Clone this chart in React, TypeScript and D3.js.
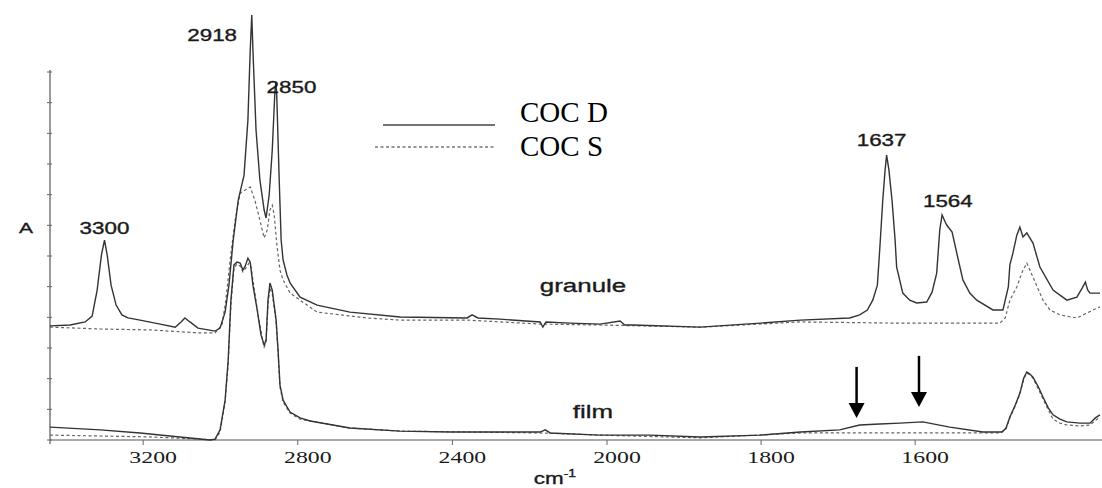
import React from "react";
import * as d3 from "d3";

// ---------- data (wavenumber cm-1, absorbance A) ----------
const granuleD: [number, number][] = [
  [3441, 0.372], [3389, 0.375], [3350, 0.385], [3332, 0.404], [3319, 0.489], [3308, 0.603],
  [3300, 0.652], [3293, 0.603], [3283, 0.505], [3270, 0.44], [3255, 0.408], [3239, 0.398],
  [3208, 0.391], [3156, 0.378], [3117, 0.368], [3102, 0.385], [3092, 0.398], [3079, 0.385],
  [3058, 0.365], [3014, 0.355], [3001, 0.365], [2988, 0.417], [2978, 0.505], [2967, 0.652],
  [2954, 0.782], [2939, 0.864], [2929, 1.043], [2923, 1.271], [2919, 1.386], [2916, 1.271],
  [2908, 1.011], [2898, 0.848], [2887, 0.75], [2882, 0.724], [2874, 0.799], [2866, 0.945],
  [2859, 1.141], [2856, 1.167], [2854, 1.108], [2848, 0.848], [2843, 0.652], [2838, 0.587],
  [2828, 0.538], [2820, 0.512], [2794, 0.466], [2750, 0.44], [2665, 0.417], [2535, 0.401],
  [2362, 0.398], [2349, 0.408], [2334, 0.398], [2277, 0.394], [2173, 0.385], [2166, 0.368],
  [2158, 0.385], [2096, 0.381], [2018, 0.378], [1983, 0.388], [1977, 0.375], [1966, 0.375],
  [1879, 0.368], [1801, 0.381], [1749, 0.391], [1685, 0.398], [1672, 0.408], [1662, 0.424],
  [1655, 0.456], [1649, 0.505], [1646, 0.619], [1642, 0.782], [1639, 0.88], [1637, 0.929],
  [1634, 0.88], [1630, 0.782], [1626, 0.652], [1624, 0.564], [1616, 0.479], [1607, 0.456],
  [1598, 0.447], [1585, 0.45], [1578, 0.482], [1572, 0.544], [1568, 0.685], [1565, 0.734],
  [1561, 0.711], [1559, 0.701], [1552, 0.678], [1546, 0.61], [1538, 0.522], [1529, 0.479],
  [1520, 0.456], [1499, 0.424], [1486, 0.424], [1479, 0.499], [1477, 0.571], [1473, 0.61],
  [1468, 0.668], [1464, 0.694], [1460, 0.662], [1455, 0.675], [1447, 0.642], [1438, 0.564],
  [1421, 0.489], [1403, 0.456], [1390, 0.466], [1383, 0.496], [1379, 0.515], [1376, 0.489],
  [1373, 0.479], [1360, 0.479],
];

const granuleS: [number, number][] = [
  [3441, 0.368], [3311, 0.362], [3182, 0.359], [3053, 0.349], [3014, 0.349], [2996, 0.375],
  [2986, 0.456], [2975, 0.587], [2962, 0.717], [2949, 0.805], [2936, 0.815], [2923, 0.825],
  [2911, 0.782], [2898, 0.717], [2887, 0.659], [2879, 0.685], [2872, 0.75], [2866, 0.766],
  [2861, 0.734], [2854, 0.636], [2846, 0.554], [2838, 0.522], [2820, 0.479], [2794, 0.456],
  [2750, 0.417], [2621, 0.398], [2535, 0.391], [2362, 0.391], [2173, 0.378], [2018, 0.375],
  [1879, 0.368], [1749, 0.385], [1620, 0.381], [1490, 0.381], [1483, 0.398], [1477, 0.456],
  [1468, 0.499], [1461, 0.548], [1455, 0.577], [1447, 0.531], [1434, 0.456], [1425, 0.424],
  [1412, 0.408], [1390, 0.398], [1369, 0.424], [1360, 0.434],
];

const filmD: [number, number][] = [
  [3441, 0.042], [3311, 0.033], [3208, 0.023], [3105, 0.01], [3027, 0.0], [3014, 0.003],
  [3001, 0.033], [2988, 0.13], [2980, 0.261], [2973, 0.456], [2965, 0.571], [2957, 0.58],
  [2949, 0.577], [2942, 0.554], [2936, 0.567], [2929, 0.593], [2923, 0.58], [2916, 0.505],
  [2905, 0.424], [2895, 0.342], [2887, 0.31], [2882, 0.326], [2877, 0.456], [2872, 0.512],
  [2866, 0.489], [2861, 0.44], [2856, 0.391], [2851, 0.293], [2846, 0.179], [2838, 0.13],
  [2820, 0.091], [2794, 0.072], [2768, 0.062], [2665, 0.039], [2535, 0.029], [2406, 0.026],
  [2173, 0.026], [2160, 0.033], [2147, 0.023], [2018, 0.016], [1944, 0.016], [1879, 0.01],
  [1801, 0.016], [1749, 0.026], [1698, 0.033], [1672, 0.049], [1646, 0.052], [1620, 0.055],
  [1590, 0.059], [1555, 0.042], [1512, 0.026], [1487, 0.026], [1482, 0.039], [1477, 0.075],
  [1470, 0.114], [1464, 0.153], [1459, 0.202], [1455, 0.222], [1451, 0.215], [1447, 0.205],
  [1440, 0.173], [1434, 0.14], [1427, 0.104], [1421, 0.082], [1412, 0.068], [1403, 0.059],
  [1386, 0.055], [1373, 0.055], [1366, 0.072], [1360, 0.082],
];

const filmS: [number, number][] = [
  [3441, 0.016], [3182, 0.01], [3053, 0.003], [3014, 0.0], [3001, 0.026], [2988, 0.124],
  [2980, 0.248], [2973, 0.44], [2965, 0.561], [2957, 0.574], [2949, 0.567], [2942, 0.548],
  [2934, 0.561], [2926, 0.577], [2921, 0.564], [2913, 0.496], [2903, 0.411], [2892, 0.333],
  [2887, 0.303], [2882, 0.32], [2877, 0.44], [2872, 0.496], [2866, 0.476], [2861, 0.43],
  [2856, 0.385], [2851, 0.287], [2846, 0.173], [2838, 0.124], [2820, 0.088], [2794, 0.068],
  [2665, 0.039], [2535, 0.029], [2173, 0.023], [2018, 0.016], [1879, 0.007], [1749, 0.023],
  [1620, 0.023], [1490, 0.023], [1482, 0.036], [1477, 0.072], [1470, 0.111], [1464, 0.15],
  [1459, 0.199], [1455, 0.218], [1451, 0.212], [1447, 0.202], [1440, 0.166], [1434, 0.134],
  [1427, 0.098], [1421, 0.068], [1412, 0.055], [1403, 0.049], [1386, 0.046], [1373, 0.049],
  [1360, 0.075],
];

const xTicks = [3200, 2800, 2400, 2000, 1800, 1600];
const yTicks = [0, 0.1, 0.2, 0.3, 0.4, 0.5, 0.6, 0.7, 0.8, 0.9, 1.0, 1.1, 1.2];
const peakLabels = ["3300", "2918", "2850", "1637", "1564"];
const peakWavenumbers = [3300, 2918, 2850, 1637, 1564];
const arrowWavenumbers = [1676, 1595];
const arrowTips = [0.072, 0.108];
const legendNames = ["COC D", "COC S"];
const sampleNames = ["granule", "film"];

// ---------- layout ----------
const W = 1102;
const H = 488;
const xScale = d3.scaleLinear().domain([3441, 2000, 1360]).range([50, 607, 1100]);
const yScale = d3.scaleLinear().domain([0, 1.2]).range([440, 72]);

const line = d3
  .line<[number, number]>()
  .x((d) => xScale(d[0]))
  .y((d) => yScale(d[1]));

const SX = 1.4; // horizontal stretch of the original figure text
const sansFont = "'Liberation Sans', Arial, sans-serif";
const serifFont = "'Liberation Serif', 'Times New Roman', serif";

const labelOffsets: Record<string, [number, number]> = {
  "3300": [0, -6],
  "2918": [-40, 26],
  "2850": [13, -7],
  "1637": [-5, -9],
  "1564": [5, -8],
};

function StretchText(props: {
  x: number;
  y: number;
  size: number;
  font: string;
  bold?: boolean;
  children: React.ReactNode;
  anchor?: string;
}) {
  return (
    <text
      transform={`translate(${props.x},${props.y}) scale(${SX},1)`}
      textAnchor={props.anchor || "middle"}
      fontFamily={props.font}
      fontSize={props.size}
      fill="#1a1a1a"
      stroke={props.bold ? "#1a1a1a" : "none"}
      strokeWidth={props.bold ? 0.35 : 0}
    >
      {props.children}
    </text>
  );
}

export default function App() {
  const solid = { fill: "none", stroke: "#333", strokeWidth: 1.4 };
  const dashed = { fill: "none", stroke: "#666", strokeWidth: 1.2, strokeDasharray: "3,2.5" };
  return (
    <div style={{ position: "absolute", left: 0, top: 0 }}>
      <svg width={W} height={H} style={{ display: "block", background: "#fff" }}>
        {/* axes */}
        <line x1={50} x2={W} y1={yScale(0)} y2={yScale(0)} stroke="#555" strokeWidth={1.2} />
        <line x1={50} x2={50} y1={yScale(1.2) - 2} y2={yScale(0) + 4} stroke="#555" strokeWidth={1.2} />
        {yTicks.map((t) => (
          <line key={t} x1={47} x2={52} y1={yScale(t)} y2={yScale(t)} stroke="#666" strokeWidth={1} />
        ))}
        {xTicks.map((t) => (
          <g key={t}>
            <line x1={xScale(t)} x2={xScale(t)} y1={yScale(0)} y2={yScale(0) + 5} stroke="#666" strokeWidth={1} />
            <StretchText x={xScale(t) + 10} y={463} size={17} font={serifFont}>
              {t}
            </StretchText>
          </g>
        ))}
        <StretchText x={555} y={484} size={16} font={sansFont} bold>
          cm
          <tspan fontSize={10} dy={-7}>-1</tspan>
        </StretchText>
        <StretchText x={26} y={233} size={15} font={sansFont} bold>
          A
        </StretchText>

        {/* spectra */}
        <path d={line(granuleS) || ""} {...dashed} />
        <path d={line(filmS) || ""} {...dashed} />
        <path d={line(granuleD) || ""} {...solid} />
        <path d={line(filmD) || ""} {...solid} />

        {/* peak labels */}
        {peakLabels.map((lab, i) => {
          const wn = peakWavenumbers[i];
          const top = d3.max(granuleD.filter((d) => Math.abs(d[0] - wn) < 6), (d) => d[1]) || 0;
          const [dx, dy] = labelOffsets[lab];
          return (
            <StretchText key={lab} x={xScale(wn) + dx} y={yScale(top) + dy} size={16} font={sansFont} bold>
              {lab}
            </StretchText>
          );
        })}

        {/* sample names */}
        <StretchText x={583} y={292} size={18.5} font={sansFont} bold>
          {sampleNames[0]}
        </StretchText>
        <StretchText x={593} y={418} size={18.5} font={sansFont} bold>
          {sampleNames[1]}
        </StretchText>

        {/* arrows */}
        {arrowWavenumbers.map((wn, i) => {
          const x = xScale(wn);
          const tip = yScale(arrowTips[i]);
          return (
            <g key={wn}>
              <line x1={x} x2={x} y1={tip - 51} y2={tip - 12} stroke="#000" strokeWidth={2.5} />
              <path d={`M${x - 8},${tip - 15} L${x + 8},${tip - 15} L${x},${tip} Z`} fill="#000" />
            </g>
          );
        })}

        {/* legend */}
        <line x1={383} x2={495} y1={125} y2={125} stroke="#444" strokeWidth={1.5} />
        <line x1={375} x2={495} y1={147} y2={147} stroke="#777" strokeWidth={1.3} strokeDasharray="3,2.5" />
        <text x={520} y={122} fontFamily={serifFont} fontSize={29} fill="#000">
          {legendNames[0]}
        </text>
        <text x={520} y={156} fontFamily={serifFont} fontSize={29} fill="#000">
          {legendNames[1]}
        </text>
      </svg>
    </div>
  );
}
